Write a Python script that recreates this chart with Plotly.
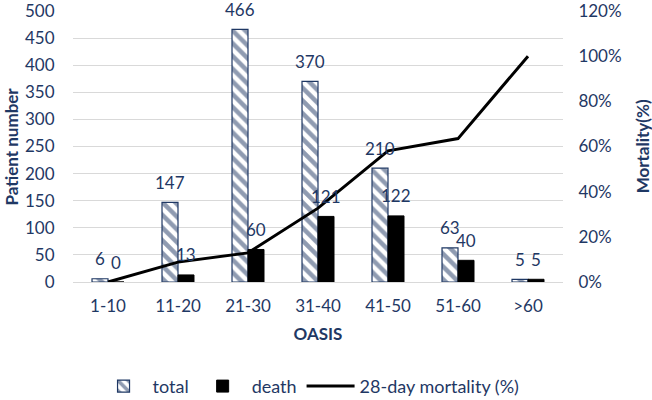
import plotly.graph_objects as go

categories = ["1-10", "11-20", "21-30", "31-40", "41-50", "51-60", ">60"]
total = [6, 147, 466, 370, 210, 63, 5]
death = [0, 13, 60, 121, 122, 40, 5]
mortality = [0.0, 0.088, 0.129, 0.327, 0.581, 0.635, 1.0]
left_ticks = [0, 50, 100, 150, 200, 250, 300, 350, 400, 450, 500]
right_ticks = [0, 0.2, 0.4, 0.6, 0.8, 1.0, 1.2]
right_labels = ["0%", "20%", "40%", "60%", "80%", "100%", "120%"]

navy = "#1F3864"
font_family = "Lato, 'Open Sans', sans-serif"
fs = 17
clear = "rgba(0,0,0,0)"

fig = go.Figure()
fig.add_trace(go.Bar(
    x=categories, y=total, name="total",
    marker=dict(color="white", line=dict(color=navy, width=1.2),
                pattern=dict(shape="\\", fgcolor=navy, bgcolor="white", size=9, solidity=0.5)),
    cliponaxis=False,
))
fig.add_trace(go.Bar(
    x=categories, y=death, name="death",
    marker=dict(color="black", line=dict(color="black", width=1)),
    cliponaxis=False,
))
fig.add_trace(go.Scatter(
    x=categories, y=mortality, name="28-day mortality (%)", yaxis="y2",
    mode="lines", line=dict(color="black", width=3), cliponaxis=False,
))

annotations = []
for c, t, d in zip(categories, total, death):
    annotations.append(dict(x=c, y=t, xref="x", yref="y", text=str(t), showarrow=False,
                            xshift=-8, yshift=20, yanchor="middle",
                            font=dict(size=fs, color=navy)))
    annotations.append(dict(x=c, y=d, xref="x", yref="y", text=str(d), showarrow=False,
                            xshift=8, yshift=20, yanchor="middle",
                            font=dict(size=fs, color=navy)))
# axis titles
annotations.append(dict(x=-0.1245, y=0.5, xref="paper", yref="paper", text="<b>Patient number</b>",
                        textangle=-90, showarrow=False, xanchor="center", yanchor="middle",
                        font=dict(size=fs, color=navy)))
annotations.append(dict(x=1.163, y=0.5, xref="paper", yref="paper", text="<b>Mortality(%)</b>",
                        textangle=-90, showarrow=False, xanchor="center", yanchor="middle",
                        font=dict(size=fs, color=navy)))

fig.update_layout(
    width=652, height=400,
    margin=dict(l=73, r=89, t=11, b=118, autoexpand=False),
    paper_bgcolor="white", plot_bgcolor="white",
    font=dict(family=font_family, color=navy, size=fs),
    barmode="group", bargap=0.543, bargroupgap=0,
    showlegend=True,
    annotations=annotations,
    legend=dict(orientation="h", x=0.145, xanchor="left", xref="container",
                y=0.034, yanchor="middle", yref="container", font=dict(size=18, color=navy),
                traceorder="normal", itemwidth=48),
    xaxis=dict(title=dict(text="<b>OASIS</b>", font=dict(size=fs, color=navy), standoff=12),
               tickfont=dict(size=fs, color=navy), showline=False,
               ticks="outside", ticklen=9, tickcolor=clear, automargin=False),
    yaxis=dict(range=[0, 500], tickvals=left_ticks, tickfont=dict(size=fs, color=navy),
               showgrid=True, gridcolor="#d9d9d9", gridwidth=1, zeroline=True,
               zerolinecolor="#d9d9d9", zerolinewidth=1, ticklabeloverflow="allow",
               ticks="outside", ticklen=14, tickcolor=clear, automargin=False),
    yaxis2=dict(range=[0, 1.2], tickvals=right_ticks, ticktext=right_labels,
                overlaying="y", side="right", ticklabeloverflow="allow",
                tickfont=dict(size=fs, color=navy), showgrid=False, zeroline=False,
                ticks="outside", ticklen=11, tickcolor=clear, automargin=False),
)

fig.write_html("out.html", config={"displayModeBar": False},
               post_script="document.body.style.margin='0px';document.body.style.padding='0px';")
